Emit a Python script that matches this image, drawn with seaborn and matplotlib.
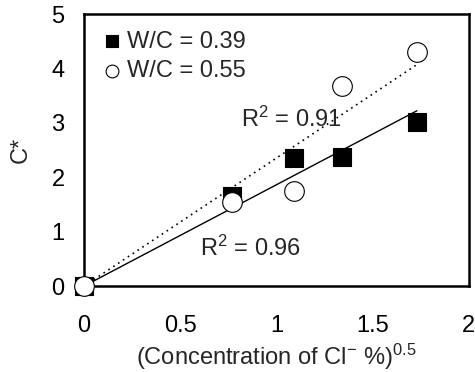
import matplotlib
matplotlib.use('Agg')
import matplotlib.pyplot as plt
import numpy as np
import pandas as pd
import seaborn as sns

# values
x_039 = [0.0, 0.77, 1.09, 1.34, 1.73]
y_039 = [0.0, 1.65, 2.36, 2.38, 3.01]
x_055 = [0.0, 0.77, 1.09, 1.34, 1.73]
y_055 = [0.0, 1.54, 1.75, 3.68, 4.30]
labels = ['W/C = 0.39', 'W/C = 0.55']

sns.set_style('white')
plt.rcParams['font.family'] = ['Liberation Sans', 'DejaVu Sans']
plt.rcParams['mathtext.fontset'] = 'custom'
plt.rcParams['mathtext.rm'] = 'Liberation Sans'
plt.rcParams['mathtext.it'] = 'Liberation Sans'

FS = 17

fig = plt.figure(figsize=(4.75, 3.72), dpi=100)
ax = fig.add_axes([0.177, 0.231, 0.81, 0.731])

# linear trend lines through the origin
def origin_fit(x, y):
    x = np.asarray(x); y = np.asarray(y)
    return (x @ y) / (x @ x)

k1 = origin_fit(x_039, y_039)
k2 = origin_fit(x_055, y_055)
fit1 = pd.DataFrame({'x': [0, max(x_039)], 'y': [0, k1 * max(x_039)]})
fit2 = pd.DataFrame({'x': [0, max(x_055)], 'y': [0, k2 * max(x_055)]})
sns.lineplot(data=fit1, x='x', y='y', ax=ax, color='black', lw=1, zorder=1)
sns.lineplot(data=fit2, x='x', y='y', ax=ax, color='black', lw=1.2,
             linestyle=(0, (1, 2.5)), zorder=1)

sns.scatterplot(x=x_039, y=y_039, ax=ax, marker='s', s=150, color='black',
                edgecolor='black', linewidth=0.8, label=labels[0], zorder=3,
                clip_on=False)
sns.scatterplot(x=x_055, y=y_055, ax=ax, marker='o', s=200, facecolor='white',
                edgecolor='black', linewidth=0.8, label=labels[1], zorder=4,
                clip_on=False)

ax.text(1.08, 3.07, 'R$^2$ = 0.91', fontsize=FS, ha='center', va='center')
ax.text(0.60, 0.70, 'R$^2$ = 0.96', fontsize=FS, ha='left', va='center')

ax.set_xlim(0, 2)
ax.set_ylim(0, 5)
ax.set_xticks([0, 0.5, 1, 1.5, 2])
ax.set_xticklabels(['0', '0.5', '1', '1.5', '2'])
ax.set_yticks([0, 1, 2, 3, 4, 5])
ax.tick_params(direction='in', length=5, color='gray', width=1,
               labelsize=FS, labelcolor='black')
ax.tick_params(axis='x', pad=21)
ax.tick_params(axis='y', pad=14)
for sp in ax.spines.values():
    sp.set_visible(True)
    sp.set_color('black')
    sp.set_linewidth(1.8)

ax.set_xlabel('(Concentration of Cl$^{-}$ %)$^{0.5}$', fontsize=FS, labelpad=3)
ax.set_ylabel('C*', fontsize=FS, labelpad=14)

leg = ax.legend(loc='upper left', frameon=False, fontsize=FS,
                handletextpad=0.1, borderaxespad=0.3, labelspacing=0.3,
                handlelength=1.0, markerscale=0.65)

fig.savefig('out.png', dpi=100)
